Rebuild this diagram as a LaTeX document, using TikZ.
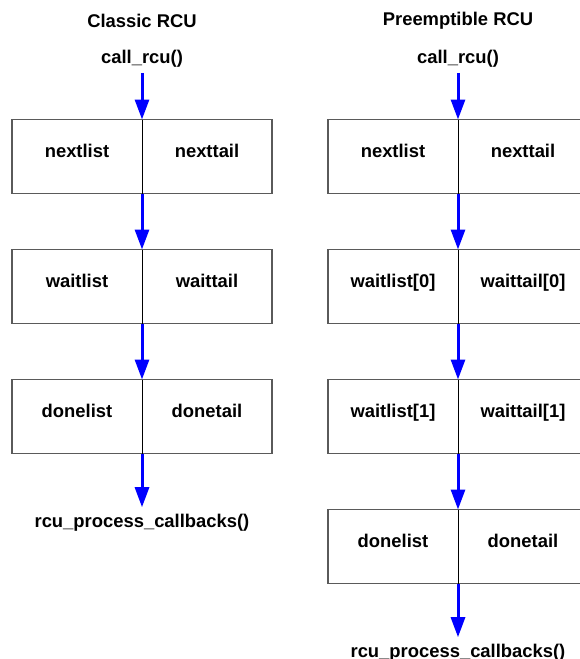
\documentclass[tikz,border=0pt]{standalone}
\usepackage{fontspec}
\setmainfont{Liberation Sans}
\usetikzlibrary{positioning,arrows.meta}
\definecolor{rcuBlue}{RGB}{0,0,255}
\definecolor{rcuFrame}{RGB}{90,90,90}

\begin{document}
\begin{tikzpicture}[
      x=1pt,y=1pt,
      node distance=56pt,
      font=\fontsize{18.4}{22}\selectfont\bfseries,
      lbl/.style={inner sep=3pt},
      half/.style={minimum width=130pt,minimum height=74pt,outer sep=0pt,inner sep=3pt,text depth=11pt},
      frame/.style={draw=rcuFrame,line width=1.2pt},
      divider/.style={draw=black,line width=1pt},
      flow/.style={-{Triangle[length=20pt,width=14pt]},rcuBlue,line width=3pt}]
    \useasboundingbox (0,0) rectangle (579,-659);
    % classic RCU
    \node[lbl] (ctitle) at (142,-20.5) {Classic RCU};
    \node[lbl] (ccall) at (142,-59) {call\_rcu()};
    \node[half] (cnl) at (77,-156.5) {nextlist};
    \node[half,right=0pt of cnl] (cnt) {nexttail};
    \node[half,below=of cnl] (cwl) {waitlist};
    \node[half,right=0pt of cwl] (cwt) {waittail};
    \node[half,below=of cwl] (cdl) {donelist};
    \node[half,right=0pt of cdl] (cdt) {donetail};
    \node[lbl] (cproc) at (142,-523) {rcu\_process\_callbacks()};
    % preemptible RCU
    \node[lbl] (ptitle) at (458,-20.5) {Preemptible RCU};
    \node[lbl] (pcall) at (458,-59) {call\_rcu()};
    \node[half] (pnl) at (393,-156.5) {nextlist};
    \node[half,right=0pt of pnl] (pnt) {nexttail};
    \node[half,below=of pnl] (pwl0) {waitlist[0]};
    \node[half,right=0pt of pwl0] (pwt0) {waittail[0]};
    \node[half,below=of pwl0] (pwl1) {waitlist[1]};
    \node[half,right=0pt of pwl1] (pwt1) {waittail[1]};
    \node[half,below=of pwl1] (pdl) {donelist};
    \node[half,right=0pt of pdl] (pdt) {donetail};
    \node[lbl] (pproc) at (458,-653) {rcu\_process\_callbacks()};
    % boxes
    \foreach \l/\r in {cnl/cnt,cwl/cwt,cdl/cdt,pnl/pnt,pwl0/pwt0,pwl1/pwt1,pdl/pdt} {
      \draw[frame] (\l.north west) rectangle (\r.south east);
      \draw[divider] (\l.north east) -- (\l.south east);
    }
    % arrows
    \draw[flow,shorten <=2pt] (ccall) -- (cnl.north east);
    \draw[flow] (cnl.south east) -- (cwl.north east);
    \draw[flow] (cwl.south east) -- (cdl.north east);
    \draw[flow,shorten >=4pt] (cdl.south east) -- (cproc.north);
    \draw[flow,shorten <=2pt] (pcall) -- (pnl.north east);
    \draw[flow] (pnl.south east) -- (pwl0.north east);
    \draw[flow] (pwl0.south east) -- (pwl1.north east);
    \draw[flow] (pwl1.south east) -- (pdl.north east);
    \draw[flow,shorten >=4pt] (pdl.south east) -- (pproc.north);
  \end{tikzpicture}
\end{document}
